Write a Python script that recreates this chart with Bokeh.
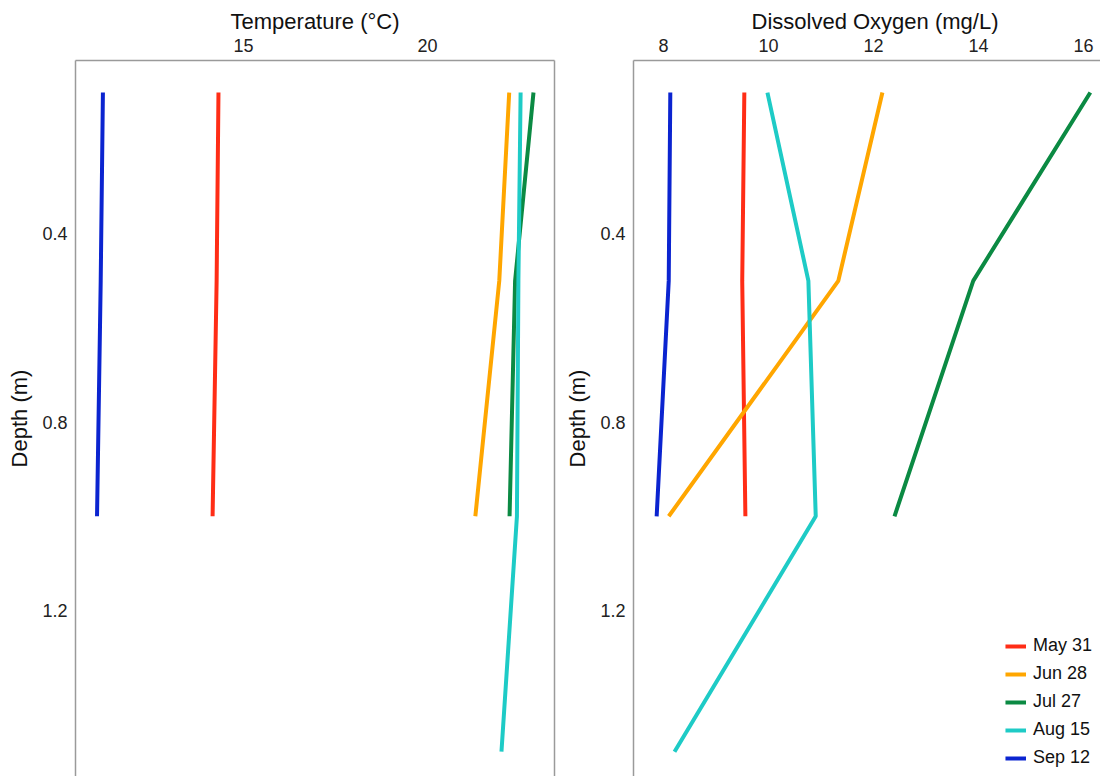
from bokeh.plotting import figure
from bokeh.models import Range1d, FixedTicker, LinearAxis, Legend, LegendItem
from bokeh.layouts import row
from bokeh.embed import file_html
from bokeh.resources import INLINE

# ---- data ----
dates = ["May 31", "Jun 28", "Jul 27", "Aug 15", "Sep 12"]
colors = ["#ff2d16", "#ffa600", "#0b8a43", "#1ecbc6", "#0b24d0"]

depth_3 = [0.1, 0.5, 1.0]
depth_4 = [0.1, 0.5, 1.0, 1.5]
depths = [depth_3, depth_3, depth_3, depth_4, depth_3]

temp_may = [14.32, 14.27, 14.16]
temp_jun = [22.22, 21.95, 21.30]
temp_jul = [22.88, 22.38, 22.23]
temp_aug = [22.53, 22.47, 22.43, 22.01]
temp_sep = [11.18, 11.12, 11.02]
temps = [temp_may, temp_jun, temp_jul, temp_aug, temp_sep]

do_may = [9.54, 9.50, 9.56]
do_jun = [12.17, 11.33, 8.10]
do_jul = [16.13, 13.90, 12.40]
do_aug = [9.98, 10.76, 10.90, 8.21]
do_sep = [8.13, 8.10, 7.87]
dos = [do_may, do_jun, do_jul, do_aug, do_sep]

temp_ticks = [15, 20]
do_ticks = [8, 10, 12, 14, 16]
depth_ticks = [0.4, 0.8, 1.2]

FONT = "Liberation Sans"
TICK_SIZE = "18px"
TITLE_SIZE = "22px"
FRAME_COLOR = "#9a9a9a"
HEIGHT = 776


def make_fig(width, x_range, xticks, title, min_left, min_right, align, title_offset):
    p = figure(width=width, height=HEIGHT, x_range=x_range,
               y_range=Range1d(1.5527, 0.0319),
               x_axis_location="above", output_backend="svg",
               toolbar_location=None, tools="",
               min_border_left=min_left, min_border_right=min_right,
               min_border_top=60, min_border_bottom=0)
    p.outline_line_color = None
    p.grid.visible = False
    p.title.text = title
    p.title.align = align
    p.title.offset = title_offset
    p.title.text_font = FONT
    p.title.text_font_size = TITLE_SIZE
    p.title.text_font_style = "normal"
    p.title.text_color = "#111111"
    p.title.standoff = 3
    for ax in (p.xaxis[0], p.yaxis[0]):
        ax.axis_line_color = FRAME_COLOR
        ax.axis_line_width = 1.5
        ax.major_tick_line_color = None
        ax.minor_tick_line_color = None
        ax.major_tick_out = 0
        ax.major_tick_in = 0
        ax.minor_tick_out = 0
        ax.major_label_text_font = FONT
        ax.major_label_text_font_size = TICK_SIZE
        ax.major_label_text_color = "#222222"
        ax.axis_label_text_font = FONT
        ax.axis_label_text_font_size = TITLE_SIZE
        ax.axis_label_text_font_style = "normal"
        ax.axis_label_text_color = "#111111"
    p.xaxis[0].ticker = FixedTicker(ticks=xticks)
    p.xaxis[0].major_label_standoff = 9
    p.yaxis[0].ticker = FixedTicker(ticks=depth_ticks)
    p.yaxis[0].major_label_standoff = 8
    p.yaxis[0].axis_label = "Depth (m)"
    p.yaxis[0].axis_label_standoff = 7
    return p


p1 = make_fig(560, Range1d(10.435, 23.451), temp_ticks, "Temperature (\u00b0C)",
              75, 6, "center", 0)
right_ax = LinearAxis(ticker=FixedTicker(ticks=[]), axis_line_color=FRAME_COLOR,
                      axis_line_width=1.5, major_tick_line_color=None,
                      minor_tick_line_color=None, major_tick_out=0, minor_tick_out=0,
                      major_label_standoff=0)
p1.add_layout(right_ax, "right")

p2 = make_fig(540, Range1d(7.429, 16.324), do_ticks, "Dissolved Oxygen (mg/L)",
              73, 0, "left", 118)

items = []
for name, c, d, t, o in zip(dates, colors, depths, temps, dos):
    p1.line(t, d, line_color=c, line_width=4)
    r = p2.line(o, d, line_color=c, line_width=4)
    items.append(LegendItem(label=name, renderers=[r]))

legend = Legend(items=items, location="bottom_right")
legend.label_text_font = FONT
legend.label_text_font_size = "18px"
legend.label_text_color = "#111111"
legend.glyph_width = 21
legend.glyph_height = 20
legend.label_height = 20
legend.spacing = 7
legend.padding = 3
legend.margin = 8
legend.label_standoff = 7
legend.border_line_color = None
legend.background_fill_alpha = 0
p2.add_layout(legend)

layout = row(p1, p2)
open("out.html", "w").write(file_html(layout, INLINE))
